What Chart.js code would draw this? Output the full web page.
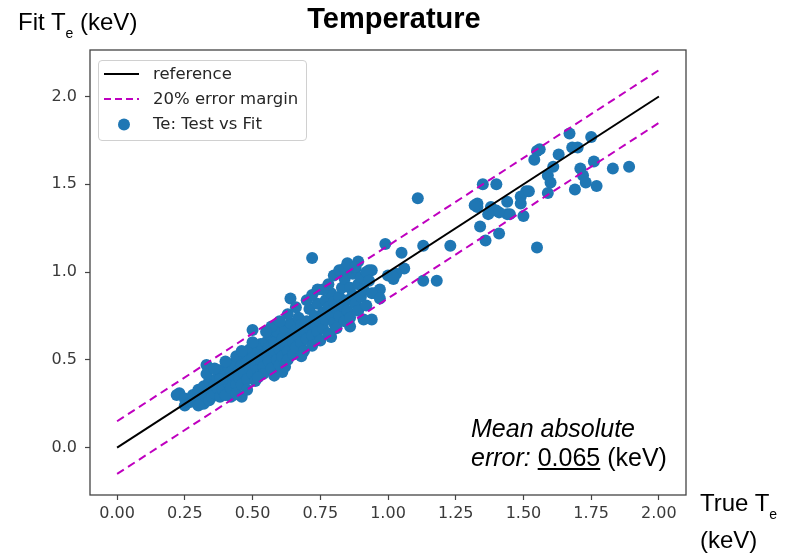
<!DOCTYPE html>
<html><head><meta charset="utf-8">
<script src="https://cdn.jsdelivr.net/npm/chart.js@4.4.0/dist/chart.umd.min.js"></script>
<style>
html,body{margin:0;padding:0;background:#fff;}
#wrap{position:relative;width:786px;height:553px;overflow:hidden;background:#fff;}
canvas{position:absolute;left:0;top:0;}
.t{position:absolute;white-space:nowrap;line-height:1;color:#000;font-family:"Liberation Sans",Arial,sans-serif;}
#legend{position:absolute;left:98px;top:60px;width:207px;height:79px;border:1px solid #d0d0d0;border-radius:4px;background:rgba(255,255,255,0.85);}
#legend .lt{position:absolute;left:54px;font-family:"DejaVu Sans",sans-serif;font-size:16.5px;line-height:1;color:#262626;white-space:nowrap;}
#legend svg{position:absolute;left:0;top:0;}
</style></head><body>
<div id="wrap">
<canvas id="c" width="786" height="553"></canvas>
<div class="t" style="left:18px;top:10px;font-size:24px;">Fit T<span style="font-size:14px;position:relative;top:8px;">e</span> (keV)</div>
<div class="t" style="left:394px;top:4px;font-size:29px;font-weight:bold;transform:translateX(-50%);">Temperature</div>
<div class="t" style="left:700px;top:491px;font-size:24px;">True T<span style="font-size:14px;position:relative;top:8px;">e</span></div>
<div class="t" style="left:700px;top:528px;font-size:24px;">(keV)</div>
<div class="t" style="left:471px;top:416px;font-size:25px;font-style:italic;">Mean absolute</div>
<div class="t" style="left:471px;top:445px;font-size:25px;"><i>error:</i> <u>0.065</u> (keV)</div>
<div id="legend">
<svg width="207" height="79">
<line x1="5" y1="13" x2="40" y2="13" stroke="#000" stroke-width="2"/>
<line x1="5" y1="38" x2="40" y2="38" stroke="#bf00bf" stroke-width="2" stroke-dasharray="7,4"/>
<circle cx="25" cy="63.5" r="6" fill="#1f77b4"/>
</svg>
<div class="lt" style="top:5px;">reference</div>
<div class="lt" style="top:30px;">20% error margin</div>
<div class="lt" style="top:55px;">Te: Test vs Fit</div>
</div>
</div>
<script>
// ---- data ----
const xTicks = [0, 0.25, 0.5, 0.75, 1.0, 1.25, 1.5, 1.75, 2.0];
const yTicks = [0, 0.5, 1.0, 1.5, 2.0];
const refX = [0, 2];
const refY = [0, 2];
const upperY = [0.15, 2.15];
const lowerY = [-0.15, 1.85];
const testTe = [
1.67,1.75,1.55,1.56,1.63,1.68,1.70,1.61,1.71,1.76,1.83,1.89,1.59,1.60,1.72,1.73,1.69,1.77,1.59,
1.35,1.40,1.51,1.49,1.44,1.33,1.33,1.38,1.40,1.44,1.41,1.50,1.49,1.34,1.41,1.36,1.55,1.54,1.52,1.45,1.37,1.32,
1.11,1.23,1.13,1.05,0.99,1.13,1.18,0.72,1.06,1.03,1.02,1.00,0.97,0.95,0.93,0.94,0.91,0.86,0.64,0.74,0.79,
0.61,0.42,0.46,0.23,0.25,0.33,0.50,0.51,0.22,0.43,0.94,1.02,
0.25,0.27,0.28,0.29,0.30,0.31,0.32,0.32,0.33,0.34,0.34,0.35,0.35,0.30,0.33,
0.36,0.36,0.37,0.37,0.38,0.38,0.39,0.39,0.40,0.40,0.41,0.41,0.42,0.42,0.43,0.43,0.44,0.44,0.45,0.45,0.36,0.40,0.38,0.44,
0.46,0.46,0.47,0.47,0.48,0.48,0.49,0.49,0.50,0.50,0.51,0.51,0.52,0.52,0.53,0.53,0.54,0.54,0.55,0.55,0.46,0.48,0.50,0.52,
0.56,0.56,0.57,0.57,0.58,0.58,0.59,0.59,0.60,0.60,0.61,0.61,0.62,0.62,0.63,0.63,0.64,0.64,0.65,0.65,0.57,0.60,0.63,0.58,0.62,0.55,
0.66,0.66,0.67,0.67,0.68,0.68,0.69,0.69,0.70,0.70,0.71,0.71,0.72,0.72,0.73,0.73,0.74,0.74,0.75,0.75,0.66,0.70,0.68,0.72,
0.76,0.76,0.77,0.77,0.78,0.78,0.79,0.79,0.80,0.80,0.81,0.81,0.82,0.82,0.83,0.83,0.84,0.84,0.85,0.85,0.78,0.80,0.82,0.76,
0.86,0.86,0.87,0.87,0.88,0.88,0.89,0.89,0.90,0.90,0.91,0.92,0.92,0.93,0.94,0.86,0.84,0.85,0.89,0.88,0.97
];
const fitTe = [
1.79,1.77,1.69,1.70,1.67,1.71,1.71,1.60,1.59,1.63,1.59,1.60,1.55,1.51,1.55,1.51,1.47,1.49,1.45,
1.50,1.50,1.46,1.43,1.40,1.39,1.37,1.37,1.35,1.33,1.34,1.32,1.39,1.26,1.22,1.18,1.14,1.64,1.46,1.33,1.33,1.38,
1.42,1.15,1.15,1.11,1.16,0.95,0.95,1.08,1.02,0.99,0.96,0.98,0.90,0.88,1.01,0.73,0.73,0.69,0.85,0.90,0.63,
0.43,0.29,0.29,0.31,0.24,0.47,0.67,0.40,0.30,0.30,1.01,0.97,
0.28,0.26,0.30,0.27,0.33,0.28,0.35,0.25,0.31,0.27,0.38,0.33,0.29,0.24,0.42,
0.36,0.31,0.40,0.34,0.29,0.44,0.37,0.33,0.41,0.30,0.46,0.37,0.34,0.43,0.39,0.48,0.36,0.31,0.44,0.40,0.45,0.49,0.39,0.52,
0.47,0.36,0.42,0.53,0.39,0.49,0.45,0.56,0.42,0.51,0.47,0.38,0.55,0.44,0.50,0.59,0.46,0.42,0.53,0.60,0.55,0.33,0.60,0.40,
0.49,0.57,0.45,0.63,0.54,0.60,0.50,0.66,0.56,0.47,0.62,0.52,0.58,0.68,0.55,0.50,0.63,0.71,0.60,0.53,0.69,0.72,0.76,0.41,0.46,0.66,
0.67,0.57,0.63,0.74,0.60,0.70,0.66,0.55,0.72,0.62,0.68,0.79,0.64,0.58,0.75,0.70,0.66,0.82,0.72,0.61,0.80,0.84,0.52,0.87,
0.77,0.68,0.84,0.73,0.65,0.80,0.76,0.88,0.71,0.83,0.79,0.68,0.86,0.75,0.91,0.81,0.72,0.96,0.84,0.78,0.93,0.98,1.01,0.90,
0.91,0.74,0.87,0.99,0.82,1.02,0.93,0.78,0.97,0.86,0.90,1.00,0.81,0.95,0.88,1.03,1.02,1.05,1.06,1.03,0.85
];
const legendLabels = ['reference', '20% error margin', 'Te: Test vs Fit'];

// ---- build ----
const pts = testTe.map((x, i) => ({x: x, y: fitTe[i]}));
const line = (ys) => refX.map((x, i) => ({x: x, y: ys[i]}));

const framePlugin = {
  id: 'frame',
  afterDraw(chart) {
    const a = chart.chartArea, ctx = chart.ctx;
    ctx.save();
    ctx.strokeStyle = '#444';
    ctx.lineWidth = 1.3;
    ctx.strokeRect(a.left, a.top, a.right - a.left, a.bottom - a.top);
    ctx.restore();
  }
};

new Chart(document.getElementById('c'), {
  type: 'scatter',
  data: {
    datasets: [
      {type: 'line', label: legendLabels[0], data: line(refY), borderColor: '#000', borderWidth: 2, pointRadius: 0, order: 1},
      {type: 'line', label: legendLabels[1], data: line(upperY), borderColor: '#bf00bf', borderWidth: 2, borderDash: [8, 5], pointRadius: 0, order: 2},
      {type: 'line', label: legendLabels[1], data: line(lowerY), borderColor: '#bf00bf', borderWidth: 2, borderDash: [8, 5], pointRadius: 0, order: 3},
      {label: legendLabels[2], data: pts, backgroundColor: '#1f77b4', borderColor: '#1f77b4', borderWidth: 0, pointRadius: 6, order: 10}
    ]
  },
  options: {
    responsive: false,
    animation: false,
    devicePixelRatio: 1,
    layout: {padding: {top: 50, right: 100, left: 0, bottom: 0}},
    plugins: {legend: {display: false}, title: {display: false}, tooltip: {enabled: false}},
    scales: {
      x: {
        type: 'linear', min: -0.1, max: 2.1,
        afterBuildTicks: (s) => { s.ticks = xTicks.map(v => ({value: v})); },
        afterFit: (s) => { s.height = 58; },
        border: {display: false},
        grid: {display: true, drawOnChartArea: false, drawTicks: true, tickLength: 5, tickColor: '#444', tickWidth: 1.2},
        ticks: {padding: 4, color: '#3a3a3a', font: {family: 'DejaVu Sans', size: 16}, callback: (v) => Number(v).toFixed(2), maxRotation: 0, autoSkip: false}
      },
      y: {
        type: 'linear', min: -0.27, max: 2.265,
        afterBuildTicks: (s) => { s.ticks = yTicks.map(v => ({value: v})); },
        afterFit: (s) => { s.width = 90; },
        border: {display: false},
        grid: {display: true, drawOnChartArea: false, drawTicks: true, tickLength: 5, tickColor: '#444', tickWidth: 1.2},
        ticks: {padding: 8, color: '#3a3a3a', font: {family: 'DejaVu Sans', size: 16}, callback: (v) => Number(v).toFixed(1), autoSkip: false}
      }
    }
  },
  plugins: [framePlugin]
});
</script>
</body></html>
